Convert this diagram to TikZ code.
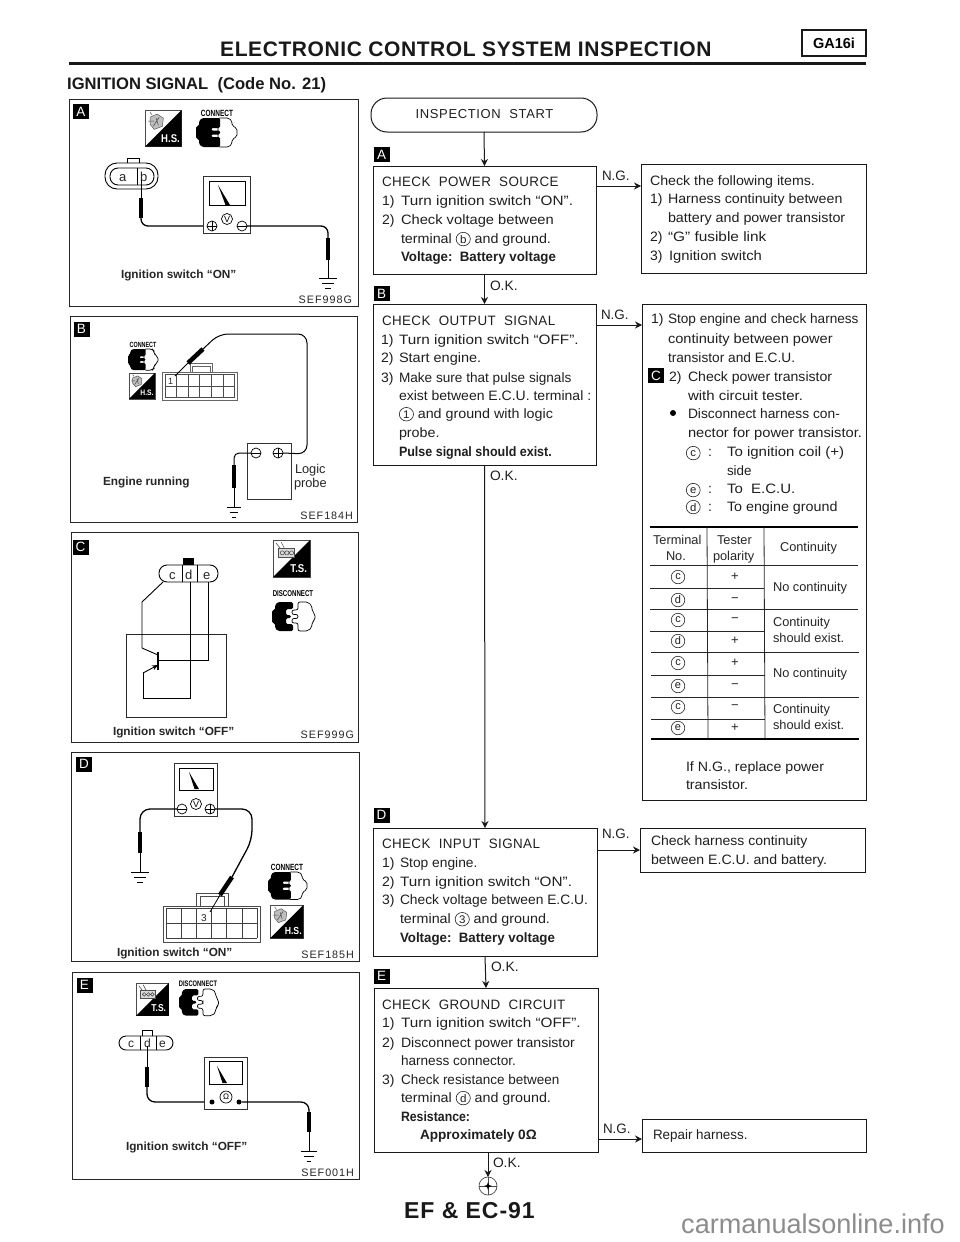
\documentclass[tikz,border=0pt]{standalone}
\usepackage{fontspec}
\setmainfont{Liberation Sans}
\usetikzlibrary{arrows.meta,calc}
\newcounter{tn}
\tikzset{
 txt/.style={inner sep=0pt,outer sep=0pt,anchor=base west,text=black!88},
 sm/.style={inner sep=0pt,outer sep=0pt,font=\fontsize{12.8}{14}\selectfont,text=black!85,anchor=base west},
 fbox/.style={draw=black!90,line width=1pt,fill=white,inner sep=0pt,outer sep=0pt,anchor=north west},
 panel/.style={draw=black!85,line width=.9pt,inner sep=0pt,outer sep=0pt,anchor=north west},
 sq/.style={fill=black,draw=black,text=white,inner sep=0pt,outer sep=0pt,minimum width=15pt,minimum height=14pt,font=\fontsize{13.5}{13.5}\selectfont},
 arr/.style={line width=1pt,draw=black!90,-{Stealth[length=7pt,width=7pt]}},
 wire/.style={line width=1.3pt,draw=black,rounded corners=7pt},
 thinw/.style={line width=.8pt,draw=black},
 fat/.style={line width=4.5pt,draw=black},
 capt/.style={inner sep=0pt,outer sep=0pt,font=\bfseries\fontsize{11.8}{13}\selectfont,anchor=base west,text=black!85},
 code/.style={inner sep=0pt,outer sep=0pt,font=\fontsize{10.8}{12}\addfontfeature{LetterSpace=9}\selectfont,anchor=base east,text=black!85},
 term/.style={draw=black,line width=.7pt,circle,inner sep=0pt,outer sep=0pt,minimum size=10pt,fill=white},
 rule/.style={line width=.8pt,draw=black!85},
 hrule/.style={line width=1.6pt,draw=black},
}
% one line of text: the optional number sets its width, its height stays that of 13.6
\newcommand\tl[4][14]{\stepcounter{tn}\pgfmathsetmacro\xsc{#1/13.6}\node[txt,font=\fontsize{13.6}{16}\selectfont] (t\arabic{tn}) at (#2,#3) {\scalebox{\xsc}[1]{#4}};}
\newcommand\ts[3]{\stepcounter{tn}\node[sm] (t\arabic{tn}) at (#1,#2) {#3};}
\newcommand\cir[1]{\tikz[baseline=(cirn.base)]\node[circle,draw=black!85,line width=.6pt,inner sep=0pt,outer sep=0pt,minimum size=13.5pt,font=\fontsize{11}{11}\selectfont,text=black!88] (cirn) {#1};}
\newcommand\gnd[3]{\draw[line width=.9pt] ({#1-#3},#2) -- ({#1+#3},#2) ({#1-#3*.62},{#2+5}) -- ({#1+#3*.62},{#2+5}) ({#1-#3*.3},{#2+10}) -- ({#1+#3*.3},{#2+10});}
\newcommand\tplus[3]{\node[term] (#1) at (#2,#3) {}; \draw[line width=.7pt] (#1.north) -- (#1.south) (#1.west) -- (#1.east);}
\newcommand\tminus[3]{\node[term] (#1) at (#2,#3) {}; \draw[line width=.7pt] (#1.west) -- (#1.east);}
\newcommand\meterbody[4]{\draw[black!80,line width=.9pt,fill=white] (#1,#2) rectangle (#3,#4);}
\newcommand\needle[4]{\fill[black] (#1,#2) -- ({#3-2.5},#4) -- ({#3+2},#4) -- cycle;}
\newcommand\hsicon[4]{\begin{scope}[shift={(#1,#2)},scale=#3]
 \draw[line width=.6pt,black!70] (0,0) rectangle (36,36);
 \fill[black] (0,36) -- (36,0) -- (36,36) -- cycle;
 \stepcounter{tn}\node[transform shape,inner sep=0pt,text=white,font=\bfseries\fontsize{11}{11}\selectfont] (t\arabic{tn}) at (25,28) {\scalebox{.85}[1]{#4}};
 \draw[line width=.5pt,black!65,fill=black!25] (5,7) -- (12,4) -- (18,8) -- (17,16) -- (9,19) -- (5,14) -- cycle;
 \draw[line width=.5pt,black!70] (7,5) -- (5,2) (11,8) -- (13,15) (14,7) -- (8,16) (3,11) -- (9,11);
\end{scope}}
\newcommand\tsicon[4]{\begin{scope}[shift={(#1,#2)},scale=#3]
 \draw[line width=.6pt,black!70] (0,0) rectangle (36,36);
 \fill[black] (0,36) -- (36,0) -- (36,36) -- cycle;
 \stepcounter{tn}\node[transform shape,inner sep=0pt,text=white,font=\bfseries\fontsize{11}{11}\selectfont] (t\arabic{tn}) at (25,28) {\scalebox{.85}[1]{#4}};
 \draw[line width=.5pt,black!70,fill=black!15] (5,8) rectangle (21,17);
 \draw[line width=.5pt,black!75] (9,12.5) circle (2) (13.5,12.5) circle (2) (18,12.5) circle (2) (3,3) -- (7,8) (8,2) -- (11,8);
\end{scope}}
\newcommand\conicon[3]{\begin{scope}[shift={(#1,#2)},scale=#3]
 \draw[line width=.7pt,black,fill=white,rounded corners=2pt] (22,0) -- (33,0) -- (36,3) -- (36,8) -- (41,10) -- (41,19) -- (36,21) -- (36,26) -- (33,29) -- (22,29) -- cycle;
 \fill[black,rounded corners=1.5pt] (6,0) -- (24,0) -- (24,10) -- (15,10) -- (15,12.5) -- (24,12.5) -- (24,16.5) -- (15,16.5) -- (15,19) -- (24,19) -- (24,29) -- (6,29) -- (3,26) -- (3,21) -- (0,21) -- (0,8) -- (3,8) -- (3,3) -- cycle;
\end{scope}}
\newcommand\disicon[3]{\begin{scope}[shift={(#1,#2)},scale=#3]
 \draw[line width=.7pt,black,fill=white,rounded corners=2pt] (26,0) -- (36,0) -- (40,4) -- (40,9) -- (43,12) -- (43,18) -- (40,20) -- (40,25) -- (36,29) -- (26,29) -- (26,21) -- (20,21) -- (20,16.5) -- (26,16.5) -- (26,12.5) -- (20,12.5) -- (20,8) -- (26,8) -- cycle;
 \fill[black,rounded corners=1.5pt] (6,0) -- (21,0) -- (21,7) -- (14,7) -- (14,13) -- (19,13) -- (19,16) -- (14,16) -- (14,22) -- (21,22) -- (21,29) -- (6,29) -- (3,26) -- (3,21) -- (0,21) -- (0,8) -- (3,8) -- (3,3) -- cycle;
\end{scope}}
\begin{document}
\begin{tikzpicture}[x=1pt,y=-1pt]
\useasboundingbox (0,0) rectangle (960,1242);
\fill[white] (0,0) rectangle (960,1242);

% ---------- header
\node[inner sep=0pt,anchor=base west,font=\bfseries\fontsize{21}{24}\addfontfeature{LetterSpace=2.8}\selectfont,text=black!90] (title) at (220,56) {ELECTRONIC CONTROL SYSTEM INSPECTION};
\draw[line width=2.4pt,black!90] (69,63.5) -- (866,63.5);
\node[fbox,line width=1.1pt,minimum width=64pt,minimum height=26pt,font=\bfseries\fontsize{14.5}{16}\selectfont] (ga) at (802,30) {GA16i};
\node[inner sep=0pt,anchor=base west,font=\bfseries\fontsize{16.6}{18}\selectfont,text=black!90] (sig) at (67,89) {IGNITION SIGNAL\ \ (Code No. 21)};

% ---------- panels
\node[panel,minimum width=289pt,minimum height=207pt] (pa) at (69,99) {};
\node[panel,minimum width=287pt,minimum height=206pt] (pb) at (70,316) {};
\node[panel,minimum width=287pt,minimum height=210pt] (pc) at (71,532) {};
\node[panel,minimum width=288pt,minimum height=209pt] (pd) at (71,752) {};
\node[panel,minimum width=287pt,minimum height=207pt] (pe) at (72,972) {};
\node[sq] (la) at (81,111.5) {A};
\node[sq] (lb) at (81.5,329) {B};
\node[sq] (lc) at (80.5,547) {C};
\node[sq] (ld) at (84,764) {D};
\node[sq] (le) at (84.5,985) {E};

% ---------- panel A
\hsicon{145}{110}{1.02}{H.S.}
\stepcounter{tn}\node[inner sep=0pt,font=\bfseries\fontsize{9}{9}\selectfont] (t\arabic{tn}) at (217,113) {\scalebox{.72}[1]{CONNECT}};
\conicon{196}{118}{1}
\draw[line width=.9pt,rounded corners=12pt] (105,163) rectangle (158,189);
\draw[line width=.9pt,rounded corners=8pt] (110,168) rectangle (154,185);
\draw[line width=.8pt] (127,163) -- (127,158) -- (139,158) -- (139,163);
\draw[line width=.8pt] (137,168) -- (137,185);
\ts{119}{181}{\fontsize{13}{13}\selectfont a}
\ts{140}{181}{\fontsize{13}{13}\selectfont b}
\draw[thinw] (141,180) -- (141,198);
\draw[fat] (141,198) -- (141,218);
\draw[wire] (141,218) -- (141,226) -- (204,226);
\meterbody{203}{176}{250}{233}
\draw[line width=.8pt] (209,181) rectangle (245,205);
\needle{218}{185}{228}{205}
\tplus{ap}{212}{226}
\tminus{am}{242}{226}
\node[term,minimum size=11pt,font=\fontsize{9}{9}\selectfont] (av) at (227,219) {V};
\draw[wire] (am.east) -- (328,226) -- (328,238);
\draw[fat] (328,238) -- (328,260);
\draw[thinw] (328,260) -- (328,278);
\gnd{328}{278}{9}
\node[capt] (ca) at (121,278) {Ignition switch “ON”};
\node[code] (sa) at (352,303) {SEF998G};

% ---------- panel B
\stepcounter{tn}\node[inner sep=0pt,font=\bfseries\fontsize{7.5}{8}\selectfont] (t\arabic{tn}) at (143,345) {\scalebox{.72}[1]{CONNECT}};
\conicon{128}{349}{.73}
\hsicon{129}{373}{.72}{H.S.}
\draw[line width=.7pt,black!60] (162,372) rectangle (237,400);
\foreach \i in {0,...,6} {\draw[line width=.7pt,black!70] ({165+\i*11.6},374) -- ({165+\i*11.6},397);}
\draw[line width=.7pt,black!70] (165,374) -- (235,374) (165,386) -- (235,386) (165,397) -- (235,397);
\draw[line width=.7pt,black!60] (190,372) -- (190,363) -- (212,363) -- (212,372) (192,372) -- (192,366) -- (210,366) -- (210,372);
\ts{168}{384}{\fontsize{9}{9}\selectfont 1}
\node[fbox,draw=black!80,minimum width=44pt,minimum height=56pt] (lp) at (247,443) {};
\tminus{bm}{256}{453}
\tplus{bp}{278}{453}
\draw[thinw] (175,376) -- (188,363);
\draw[fat] (188,363) -- (203,349);
\draw[thinw,rounded corners=9pt,line width=1pt] (203,349) -- (219,334) -- (307,334) -- (307,454) -- (bp.east);
\draw[wire,rounded corners=5pt,line width=1pt] (bm.west) -- (234,453) -- (234,465);
\draw[fat] (234,465) -- (234,488);
\draw[thinw] (234,488) -- (234,507);
\gnd{234}{507}{7}
\ts{295}{473}{Logic}
\ts{294}{487}{probe}
\node[capt] (cb) at (103,485) {Engine running};
\node[code] (sb) at (353,519) {SEF184H};

% ---------- panel C
\tsicon{273}{540}{1.03}{T.S.}
\stepcounter{tn}\node[inner sep=0pt,font=\bfseries\fontsize{8.5}{9}\selectfont] (t\arabic{tn}) at (293,594) {\scalebox{.72}[1]{DISCONNECT}};
\disicon{272}{602}{1}
\draw[line width=.9pt,rounded corners=8pt] (159,565) rectangle (218,582);
\draw[line width=.8pt] (182,565) -- (182,582) (197,565) -- (197,582);
\fill[black] (183,558) rectangle (194,565);
\ts{169}{579}{\fontsize{13}{13}\selectfont c}
\ts{185}{579}{\fontsize{13}{13}\selectfont d}
\ts{203}{579}{\fontsize{13}{13}\selectfont e}
\draw[line width=.8pt,black!85] (126,634) rectangle (226,717);
\draw[line width=.9pt] (163,582) -- (142,602) -- (142,648) -- (158,655);
\draw[line width=.9pt] (190,582) -- (190,698) -- (143,698) -- (143,673);
\draw[line width=.9pt,-{Stealth[length=6pt,width=5pt]}] (143,673) -- (158,665);
\draw[line width=.9pt] (208,582) -- (208,660) -- (158,660);
\draw[line width=1.6pt] (158,652) -- (158,670);
\node[capt] (cc) at (113,735) {Ignition switch “OFF”};
\node[code] (sc) at (354,738) {SEF999G};

% ---------- panel D
\meterbody{174}{763}{217}{816}
\draw[line width=.8pt] (179,768) rectangle (213,790);
\needle{189}{772}{197}{789}
\tminus{dm}{182}{809}
\tplus{dp}{210}{809}
\node[term,minimum size=11pt,font=\fontsize{9}{9}\selectfont] (dv) at (196,804) {V};
\draw[wire,rounded corners=10pt] (dm.west) -- (140,809) -- (140,832);
\draw[fat] (140,832) -- (140,853);
\draw[thinw] (140,853) -- (140,872);
\gnd{140}{872}{9}
\draw[line width=.8pt,black!70] (163,906) rectangle (260,942);
\draw[line width=.8pt,black!70] (196,906) -- (196,893) -- (228,893) -- (228,906) (200,906) -- (200,896) -- (224,896) -- (224,906);
\foreach \i in {0,...,6} {\draw[line width=.7pt,black!75] ({166+\i*15.2},908) -- ({166+\i*15.2},938);}
\draw[line width=.7pt,black!75] (166,908) -- (257,908) (166,923) -- (257,923) (166,938) -- (257,938);
\ts{201}{921}{\fontsize{10}{10}\selectfont 3}
\draw[wire,rounded corners=10pt] (dp.east) -- (252,809) -- (252,840) -- (232,877);
\draw[fat] (232,877) -- (220,895);
\draw[thinw] (220,895) -- (210,912);
\stepcounter{tn}\node[inner sep=0pt,font=\bfseries\fontsize{9}{9}\selectfont] (t\arabic{tn}) at (287,867) {\scalebox{.72}[1]{CONNECT}};
\conicon{268}{872}{.95}
\hsicon{270}{905}{.93}{H.S.}
\node[capt] (cd) at (117,956) {Ignition switch “ON”};
\node[code] (sd) at (354,958) {SEF185H};

% ---------- panel E
\tsicon{136}{983}{.91}{T.S.}
\stepcounter{tn}\node[inner sep=0pt,font=\bfseries\fontsize{8}{9}\selectfont] (t\arabic{tn}) at (198,984) {\scalebox{.72}[1]{DISCONNECT}};
\disicon{179}{989}{.92}
\draw[line width=.9pt,rounded corners=7pt] (119,1036) rectangle (173,1050);
\draw[line width=.8pt] (140,1036) -- (140,1050) (156,1036) -- (156,1050);
\draw[line width=.8pt] (142,1036) -- (142,1030) -- (152,1030) -- (152,1036);
\ts{128}{1047}{\fontsize{12}{12}\selectfont c}
\ts{144}{1047}{\fontsize{12}{12}\selectfont d}
\ts{159}{1047}{\fontsize{12}{12}\selectfont e}
\draw[thinw] (147,1046) -- (147,1067);
\draw[fat] (147,1067) -- (147,1087);
\draw[wire,rounded corners=8pt] (147,1087) -- (147,1102) -- (205,1102);
\meterbody{204}{1057}{247}{1109}
\draw[line width=.8pt] (209,1061) rectangle (242,1084);
\needle{217}{1066}{225}{1083}
\node[circle,fill=black,inner sep=0pt,minimum size=5pt] (el) at (212,1102) {};
\node[circle,fill=black,inner sep=0pt,minimum size=5pt] (er) at (239,1102) {};
\node[term,minimum size=12pt,font=\fontsize{8}{8}\selectfont] (eo) at (226,1097) {Ω};
\draw[wire,rounded corners=8pt] (er) -- (309,1102) -- (309,1112);
\draw[fat] (309,1112) -- (309,1132);
\draw[thinw] (309,1132) -- (309,1151);
\gnd{309}{1151}{8}
\node[capt] (ce) at (126,1150) {Ignition switch “OFF”};
\node[code] (se) at (354,1176) {SEF001H};

% ---------- flow chart
\node[fbox,rounded corners=16pt,minimum width=226pt,minimum height=34pt] (st) at (371,98) {};
\node[txt,anchor=center,font=\fontsize{13}{15}\addfontfeature{LetterSpace=5}\selectfont] (stt) at (484.5,114) {INSPECTION\ \ START};
\node[fbox,minimum width=223pt,minimum height=108pt] (b1) at (373,166) {};
\node[fbox,minimum width=225pt,minimum height=109pt] (r1) at (641,164) {};
\node[fbox,minimum width=223pt,minimum height=161pt] (b2) at (373,304) {};
\node[fbox,minimum width=224pt,minimum height=496pt] (r2) at (642,304) {};
\node[fbox,minimum width=224pt,minimum height=128pt] (b3) at (373,828) {};
\node[fbox,minimum width=225pt,minimum height=44pt] (r3) at (640,828) {};
\node[fbox,minimum width=224pt,minimum height=164pt] (b4) at (374,988) {};
\node[fbox,minimum width=224pt,minimum height=33pt] (r4) at (642,1119) {};
\node[draw=black!70,line width=.7pt,circle,inner sep=0pt,minimum size=18pt,outer sep=0pt] (endc) at (488,1186) {};
\draw[line width=.6pt,black!70] (endc.north) -- (endc.south) (endc.west) -- (endc.east);
\fill[black] (488,1182) -- (489,1185) -- (492,1186) -- (489,1187) -- (488,1190) -- (487,1187) -- (484,1186) -- (487,1185) -- cycle;

\draw[arr] (st.south) -- (b1.north);
\draw[arr] (b1.south) -- (b2.north);
\draw[arr] (b2.south) -- (b3.north);
\draw[arr] (b3.south) -- (b4.north);
\draw[arr] (b4.south -| endc.north) -- (endc.north);
\coordinate (n1) at (596,186);
\coordinate (n2) at (596,325);
\coordinate (n3) at (597,850);
\coordinate (n4) at (598,1139);
\draw[arr] (n1) -- (n1 -| r1.west);
\draw[arr] (n2) -- (n2 -| r2.west);
\draw[arr] (n3) -- (n3 -| r3.west);
\draw[arr] (n4) -- (n4 -| r4.west);
\tl[13.4]{602}{180}{N.G.}
\tl[13.4]{601}{319}{N.G.}
\tl[13.4]{602}{838}{N.G.}
\tl[13.4]{603}{1133}{N.G.}
\tl[13.8]{490}{290}{O.K.}
\tl[13.8]{490}{480}{O.K.}
\tl[13.8]{491}{971}{O.K.}
\tl[13.8]{493}{1167}{O.K.}
\node[sq] (fa) at (381.5,154.5) {A};
\node[sq] (fb) at (381.5,293.5) {B};
\node[sq] (fd) at (381.5,815) {D};
\node[sq] (fe) at (381.5,976) {E};
\node[sq] (fc) at (656,375.5) {C};

% box 1
\tl[13.4]{382}{186}{\addfontfeature{LetterSpace=3}CHECK\ \ POWER\ \ SOURCE}
\tl{382}{205}{1)}\tl[15.3]{401}{205}{Turn ignition switch “ON”.}
\tl{382}{224}{2)}\tl[14.7]{401}{224}{Check voltage between}
\tl[14.3]{401}{243}{terminal \cir{b} and ground.}
\tl[13.3]{401}{261}{\bfseries Voltage:\ \ Battery voltage}
% right 1
\tl[14.2]{650}{185}{Check the following items.}
\tl{650}{203}{1)}\tl[14.2]{668}{203}{Harness continuity between}
\tl[14.3]{668}{222}{battery and power transistor}
\tl{650}{241}{2)}\tl[15.4]{668}{241}{“G” fusible link}
\tl{650}{260}{3)}\tl[14.8]{669}{260}{Ignition switch}
% box 2
\tl[13.4]{382}{325}{\addfontfeature{LetterSpace=3}CHECK\ \ OUTPUT\ \ SIGNAL}
\tl{381}{344}{1)}\tl[15.3]{399}{344}{Turn ignition switch “OFF”.}
\tl{381}{362}{2)}\tl[14.5]{399}{362}{Start engine.}
\tl{381}{382}{3)}\tl[13.6]{399}{382}{Make sure that pulse signals}
\tl[14]{399}{400}{exist between E.C.U. terminal :}
\tl[14.3]{399}{418}{\cir{1} and ground with logic}
\tl[14.3]{399}{437}{probe.}
\tl[12.5]{399}{456}{\bfseries Pulse signal should exist.}
% right 2
\tl{651}{323}{1)}\tl[13.6]{668}{323}{Stop engine and check harness}
\tl[14.6]{668}{343}{continuity between power}
\tl[13.7]{668}{362}{transistor and E.C.U.}
\tl{669}{381}{2)}\tl[14.1]{688}{381}{Check power transistor}
\tl[15]{688}{400}{with circuit tester.}
\tl[13.8]{688}{418}{Disconnect harness con-}
\node[circle,fill=black,inner sep=0pt,minimum size=6pt] (bul) at (673,413) {};
\tl[14.7]{688}{437}{nector for power transistor.}
\tl{686}{456}{\cir{c}}\tl{708}{456}{:}\tl[15]{727}{456}{To ignition coil (+)}
\tl[13.4]{727}{475}{side}
\tl{686}{493}{\cir{e}}\tl{708}{493}{:}\tl[15]{727}{493}{To\ \ E.C.U.}
\tl{686}{511}{\cir{d}}\tl{708}{511}{:}\tl[14.3]{727}{511}{To engine ground}
% table
\draw[hrule] (650,527) -- (858,527);
\draw[hrule] (651,739) -- (859,739);
\draw[rule] (707,527) -- (708,739) (764,527) -- (765,739);
\draw[rule] (650,565) -- (858,565) (650,609) -- (858,609) (651,652) -- (859,652) (651,697) -- (859,697);
\draw[rule] (650,588) -- (764,588) (650,631) -- (764,631) (651,675) -- (765,675) (651,719) -- (765,719);
\ts{653}{544}{Terminal}
\ts{666}{560}{No.}
\ts{717}{544}{Tester}
\ts{713}{560}{polarity}
\ts{780}{551}{Continuity}
\foreach \y/\c/\s in {577/c/+,600/d/−,620/c/−,641/d/+,663/c/+,686/e/−,707/c/−,728/e/+}{
 \node[sm,anchor=center] (tc\y) at (678,\y) {\cir{\c}};
 \node[sm,anchor=center,font=\fontsize{13}{13}\selectfont] (ts\y) at (735,\y) {\s};
}
\ts{773}{591}{No continuity}
\ts{773}{626}{Continuity}
\ts{773}{642}{should exist.}
\ts{773}{677}{No continuity}
\ts{773}{713}{Continuity}
\ts{773}{729}{should exist.}
\tl[14.2]{686}{771}{If N.G., replace power}
\tl[14.3]{686}{789}{transistor.}
% box 3
\tl[13.4]{382}{848}{\addfontfeature{LetterSpace=3}CHECK\ \ INPUT\ \ SIGNAL}
\tl{382}{867}{1)}\tl[13.8]{400}{867}{Stop engine.}
\tl{382}{886}{2)}\tl[15.3]{400}{886}{Turn ignition switch “ON”.}
\tl{382}{904}{3)}\tl[13.8]{400}{904}{Check voltage between E.C.U.}
\tl[14.3]{400}{923}{terminal \cir{3} and ground.}
\tl[13.3]{400}{942}{\bfseries Voltage:\ \ Battery voltage}
\tl[14]{651}{845}{Check harness continuity}
\tl[14.1]{651}{864}{between E.C.U. and battery.}
% box 4
\tl[13.4]{382}{1009}{\addfontfeature{LetterSpace=3}CHECK\ \ GROUND\ \ CIRCUIT}
\tl{382}{1027}{1)}\tl[15.3]{401}{1027}{Turn ignition switch “OFF”.}
\tl{382}{1047}{2)}\tl[14.1]{401}{1047}{Disconnect power transistor}
\tl[13.6]{401}{1065}{harness connector.}
\tl{382}{1084}{3)}\tl[13.5]{401}{1084}{Check resistance between}
\tl[14.3]{401}{1102}{terminal \cir{d} and ground.}
\tl[12.3]{401}{1121}{\bfseries Resistance:}
\tl[13.6]{420}{1139}{\bfseries Approximately 0Ω}
\tl[13.4]{653}{1139}{Repair harness.}

\node[inner sep=0pt,anchor=base west,font=\bfseries\fontsize{23}{25}\addfontfeature{LetterSpace=4}\selectfont,text=black!90] (page) at (404,1218) {EF \& EC-91};
\node[inner sep=0pt,anchor=base west,font=\fontsize{27.1}{30}\selectfont,text=black!45] (wm) at (681,1233) {carmanualsonline.info};
\end{tikzpicture}
\end{document}
